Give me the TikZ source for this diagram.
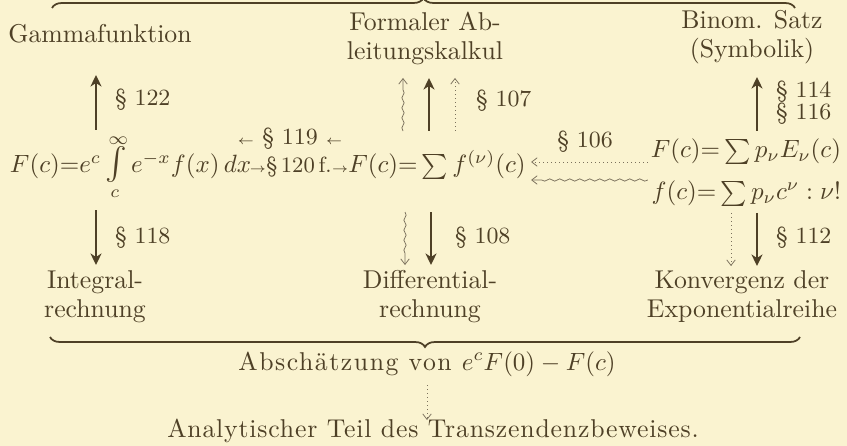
\documentclass[tikz,border=0pt]{standalone}
\usepackage{fontspec}
\usepackage{amsmath}
\usetikzlibrary{arrows.meta,positioning,calc,decorations.pathreplacing,decorations.pathmorphing}
\newfontfamily\spacedfont[LetterSpace=6]{lmroman10-regular.otf}
\newfontfamily\spacedfontb[LetterSpace=3.2]{lmroman10-regular.otf}
\definecolor{ink}{RGB}{78,64,38}
\definecolor{paper}{RGB}{250,243,208}

\begin{document}
\begin{tikzpicture}[
  x=0.4pt, y=-0.4pt,
  txt/.style = {inner sep=1pt, anchor=base, align=center, text=ink,
    font=\fontsize{10.3}{11.6}\selectfont},
  frm/.style = {inner sep=1pt, anchor=base, text=ink,
    font=\fontsize{10.3}{12}\selectfont},
  lbl/.style = {inner sep=1pt, anchor=base west, text=ink,
    font=\fontsize{9.3}{9}\selectfont},
  bigarrow/.style  = {-{Stealth[length=4.6pt,width=4.4pt,inset=1.4pt]}, line width=0.8pt, draw=ink},
  thinarrow/.style = {-{Straight Barb[length=2.2pt,width=3.4pt]}, line width=0.3pt, draw=ink!75},
  wavy/.style = {decorate, decoration={snake, amplitude=0.45pt, segment length=4pt, post length=3pt}},
  dotline/.style = {dash pattern=on 0.4pt off 1.2pt},
  brace/.style = {decorate, decoration={brace, amplitude=4pt}, line width=0.7pt, draw=ink},
]
\useasboundingbox (0,0) rectangle (847,446);
\fill[paper] (0,0) rectangle (847,446);
\clip (0,0) rectangle (847,446);

%% ---- columns ----
\coordinate (colL) at (96,0);
\coordinate (colM) at (429,0);
\coordinate (colMw) at (403,0);
\coordinate (colMd) at (455,0);
\coordinate (colR) at (757,0);
\coordinate (colRd) at (731,0);

%% ---- top row ----
\draw[brace] (52,8) -- (795,8);
\node[txt] (gamma) at (100,43) {Gammafunktion};
\node[txt] (formal) at (425,60) {Formaler Ab-\\leitungskalkul};
\node[txt] (binom) at (752,58) {Binom. Satz\\(Symbolik)};

%% ---- formulas ----
\node[frm, anchor=base west] (intF) at (7,173)
  {$F(c){=}e^c\mathop{\scalebox{1.3}{$\int$}}\limits_{\llap{$\scriptstyle c$\kern2pt}}^{\rlap{\kern1.5pt\raisebox{-3pt}{$\scriptstyle\infty$}}} e^{-x}f(x)\,dx$};
\node[frm] (sumF) at (437,173) {$F(c){=}\sum f^{(\nu)}(c)$};
\node[frm, anchor=base east] (serF) at (844,158) {$F(c){=}\sum p_\nu E_\nu(c)$};
\node[frm, anchor=base east] (serf) at (844,200) {$f(c){=}\sum p_\nu c^\nu : \nu!$};

\node[lbl, anchor=base] (s119) at (290,145) {{\tiny$\leftarrow$} § 119 {\tiny$\leftarrow$}};
\node[lbl, anchor=base, font=\fontsize{8.8}{9}\selectfont] (s120) at (299,173) {{\tiny$\rightarrow$}§\,120\,f.{\tiny$\rightarrow$}};

%% ---- bottom row ----
\node[txt] (integ) at (95,318) {Integral-\\rechnung};
\node[txt] (diff) at (430,318) {Differential-\\rechnung};
\node[txt] (konv) at (742,318) {Konvergenz der\\Exponentialreihe};
\draw[brace] (800,337) -- (50,337);
\node[txt] (absch) at (427,370) {\spacedfont Abschätzung von $e^cF(0)-F(c)$};
\node[txt] (analyt) at (433,437) {\spacedfontb Analytischer Teil des Transzendenzbeweises.};

%% ---- arrows up ----
\draw[bigarrow, shorten <=17.2pt, shorten >=12.8pt] (intF.base -| colL) -- (gamma.base -| colL);
\draw[bigarrow, shorten <=16.8pt, shorten >=7.2pt] (sumF.base -| colM) -- (formal.base -| colM);
\draw[thinarrow, wavy] ($(sumF.base -| colMw)+(0,-42)$) -- ($(formal.base -| colMw)+(0,18)$);
\draw[thinarrow, dotline, shorten <=16.8pt, shorten >=7.2pt] (sumF.base -| colMd) -- (formal.base -| colMd);
\draw[bigarrow, shorten <=10.8pt, shorten >=7.6pt] (serF.base -| colR) -- (binom.base -| colR);

\node[lbl] (s122) at (112,106) {§ 122};
\node[lbl] (s107) at (473,107) {§ 107};
\node[lbl] (s114) at (773,98) {§ 114};
\node[lbl] (s116) at (773,120) {§ 116};

%% ---- arrows down ----
\draw[bigarrow, shorten <=14.8pt, shorten >=21.2pt] (intF.base -| colL) -- (integ.base -| colL);
\draw[bigarrow, shorten <=15.6pt, shorten >=21.2pt] ([xshift=0.8pt]sumF.base -| colM) -- ([xshift=0.8pt]diff.base -| colM);
\draw[thinarrow, wavy] ($(sumF.base -| colMw)+(2,39)$) -- ($(diff.base -| colMw)+(2,-53)$);
\draw[bigarrow, shorten <=5.2pt, shorten >=20.8pt] (serf.base -| colR) -- (konv.base -| colR);
\draw[thinarrow, dotline, shorten <=5.2pt, shorten >=20.8pt] (serf.base -| colRd) -- (konv.base -| colRd);

\node[lbl] (s118) at (112,243) {§ 118};
\node[lbl] (s108) at (452,243) {§ 108};
\node[lbl] (s112) at (773,243) {§ 112};

%% ---- side arrows ----
\draw[thinarrow, dotline, shorten >=1pt] ($(serF.base west)+(0,4)$) -- ($(sumF.base east)+(0,-11)$);
\draw[thinarrow, wavy] ($(serF.base west)+(0,22)$) -- ($(sumF.base east)+(2.5,7)$);
\node[lbl, anchor=base] (s106) at (585,148) {§ 106};

\draw[thinarrow, dotline, shorten <=6pt, shorten >=6.8pt] (absch.base) -- (absch.base |- analyt.base);

\end{tikzpicture}
\end{document}
